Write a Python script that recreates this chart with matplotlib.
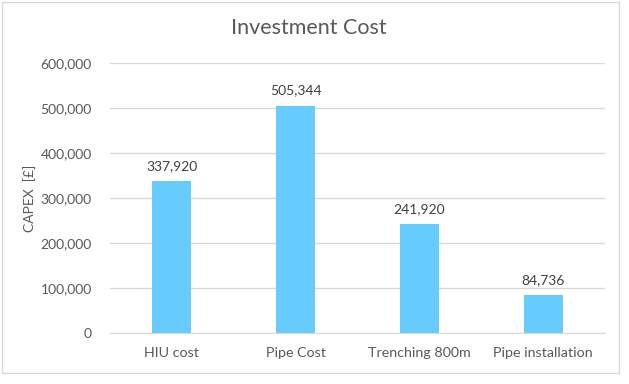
import matplotlib
matplotlib.use("Agg")
import matplotlib.pyplot as plt
from matplotlib.patches import Rectangle
from matplotlib.ticker import FuncFormatter

categories = ["HIU cost", "Pipe Cost", "Trenching 800m", "Pipe installation"]
values = [337920, 505344, 241920, 84736]
yticks = [0, 100000, 200000, 300000, 400000, 500000, 600000]

plt.rcParams['font.family'] = ['Lato', 'DejaVu Sans']
W, H = 629, 384
fig = plt.figure(figsize=(W/100, H/100), dpi=100)
ax = fig.add_axes([110/W, 1-333/H, (605-110)/W, (333-63)/H])

x = range(len(categories))
bars = ax.bar(x, values, width=0.315, color="#66CCFF", zorder=3)
for xi, v in zip(x, values):
    ax.text(xi, v + 20000, f"{v:,}", ha="center", va="bottom", fontsize=10, color="#404040")

ax.set_xlim(-0.5, len(categories) - 0.5)
ax.set_ylim(0, 600000)
ax.set_yticks(yticks)
ax.yaxis.set_major_formatter(FuncFormatter(lambda v, p: f"{int(v):,}"))
ax.set_xticks(list(x))
ax.set_xticklabels(categories)
ax.grid(axis="y", color="#D9D9D9", linewidth=1, zorder=0)
for s in ["top", "right", "left"]:
    ax.spines[s].set_visible(False)
ax.spines["bottom"].set_color("#D9D9D9")
ax.tick_params(axis="both", length=0, labelsize=10, colors="#595959")
ax.tick_params(axis="y", pad=13)
ax.tick_params(axis="x", labelsize=10.3, pad=10)
fig.text(30/W, 1-198/H, "CAPEX  [£]", rotation=90, ha="center", va="center", fontsize=10, color="#595959")
fig.text(309/W, 1-28/H, "Investment Cost", ha="center", va="center", fontsize=15.5, color="#595959")

fig.patches.append(Rectangle((2/W, 1-373/H), 617/W, 371/H, transform=fig.transFigure,
                             fill=False, edgecolor="#D9D9D9", linewidth=1))
fig.savefig("out.png", dpi=100)
